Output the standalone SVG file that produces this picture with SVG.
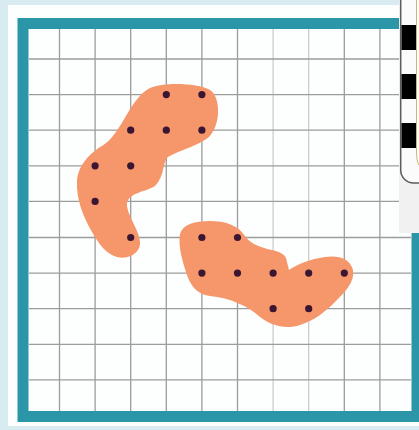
<svg xmlns="http://www.w3.org/2000/svg" width="419" height="430" viewBox="0 0 419 430">
<style>
.g{stroke:#9c9c9c;stroke-width:1.3;fill:none}
.gl{stroke:#c4c4c4;stroke-width:1.1;fill:none}
.blob{fill:#f6966b}
.dot{fill:#3a1632}
.chk{fill:#000}
</style>
<rect x="0" y="0" width="419" height="430" fill="#d8ebf1"/>
<rect x="8" y="5" width="411" height="421" fill="#fdfefe"/>
<g id="grid">
<path class="g" d="M59.5 29V411M95.1 29V411M130.7 29V411M166.3 29V411M201.9 29V411M237.5 29V411M344.3 29V411M379.9 29V411"/>
<path class="gl" d="M273.1 29V411M308.7 29V411"/>
<path class="g" d="M29 59H411M29 94.6H411M29 130.2H411M29 165.8H411M29 201.4H411M29 237.5H411M29 273.1H411M29 308.7H411M29 344.3H411M29 379.9H411"/>
</g>
<g id="region-1">
<path class="blob" d="M150 88C165 82 197 83 210 90C221 97 221 125 209 137C200 145 180 150 168 157C162 163 165 176 155 186C146 192 130 192 127 203C126 214 139 229 140 242C141 253 128 260 117 257C106 254 99 244 92 232C84 218 76 200 77 181C78 165 90 153 102 146C113 139 118 129 126 116C133 104 140 93 150 88Z"/>
<circle class="dot" cx="166.3" cy="94.6" r="3.6"/>
<circle class="dot" cx="201.9" cy="94.6" r="3.6"/>
<circle class="dot" cx="130.7" cy="130.2" r="3.6"/>
<circle class="dot" cx="166.3" cy="130.2" r="3.6"/>
<circle class="dot" cx="201.9" cy="130.2" r="3.6"/>
<circle class="dot" cx="95.1" cy="165.8" r="3.6"/>
<circle class="dot" cx="130.7" cy="165.8" r="3.6"/>
<circle class="dot" cx="95.1" cy="201.4" r="3.6"/>
<circle class="dot" cx="130.7" cy="237.5" r="3.6"/>
</g>
<g id="region-2">
<path class="blob" d="M180 234C183 224 195 221 210 221C225 221 238 225 245 236C250 244 262 248 272 250C280 252 284 254 286 258L289 270C298 264 310 259 325 257C338 255 350 258 353 270C355 282 345 292 335 302C325 312 315 320 300 325C285 330 270 325 260 317C248 306 230 298 210 296C196 294 190 285 186 272C182 260 178 245 180 234Z"/>
<circle class="dot" cx="201.9" cy="237.5" r="3.6"/>
<circle class="dot" cx="237.5" cy="237.5" r="3.6"/>
<circle class="dot" cx="201.9" cy="273.1" r="3.6"/>
<circle class="dot" cx="237.5" cy="273.1" r="3.6"/>
<circle class="dot" cx="273.1" cy="273.1" r="3.6"/>
<circle class="dot" cx="308.7" cy="273.1" r="3.6"/>
<circle class="dot" cx="344.3" cy="273.1" r="3.6"/>
<circle class="dot" cx="273.1" cy="308.7" r="3.6"/>
<circle class="dot" cx="308.7" cy="308.7" r="3.6"/>
</g>
<g id="frame">
<rect x="23" y="23.5" width="394" height="393" fill="none" stroke="#2b96a7" stroke-width="11"/>
</g>
<g id="side-panel">
<rect x="399" y="0" width="20" height="233" fill="#f1f1f1"/>
<rect x="400.7" y="-20" width="40" height="203" rx="13" fill="#fbfbfb" stroke="#5c5c5c" stroke-width="1.5"/>
<rect class="chk" x="401.5" y="25" width="15" height="25"/>
<rect class="chk" x="401.5" y="74" width="15" height="25"/>
<rect class="chk" x="401.5" y="123" width="15" height="25"/>
<path d="M416.5 0V150Q416.5 162 419 165" fill="none" stroke="#c9b870" stroke-width="1"/>
</g>
</svg>
